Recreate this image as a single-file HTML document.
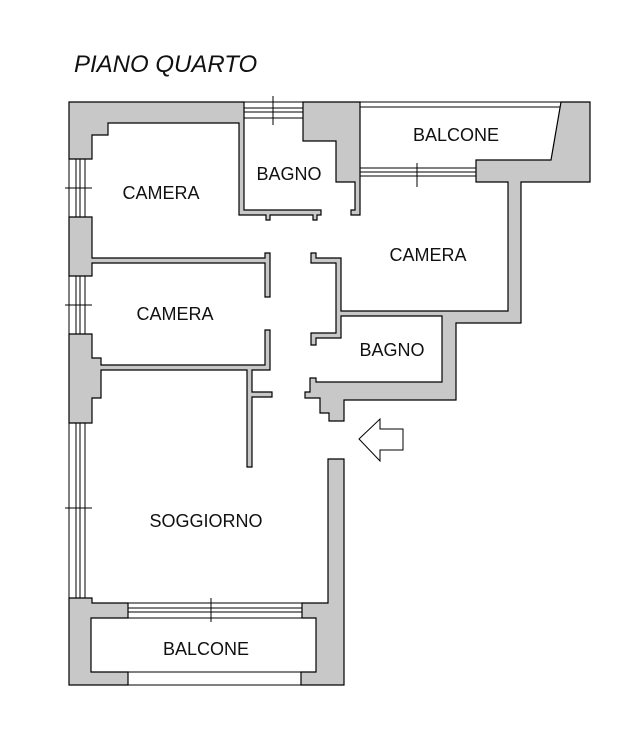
<!DOCTYPE html>
<html><head><meta charset="utf-8"><style>
html,body{margin:0;padding:0;background:#fff;}
svg{display:block;}
text{font-family:"Liberation Sans",sans-serif;font-size:18px;fill:#111;}
</style></head><body>
<svg width="629" height="741" viewBox="0 0 629 741" xmlns="http://www.w3.org/2000/svg">
<text x="74" y="72" style="font-size:24px;font-style:italic">PIANO QUARTO</text>
<g fill="#c8c8c8" stroke="#000" stroke-width="1.2">
<polygon points="69,102 244,102 244,210 321,210 321,215 317,215 317,220 313,220 313,215 270,215 270,220 266,220 266,215 239,215 239,123 108,123 108,135 92,135 92,159 69,159"/>
<polygon points="69,217 92,217 92,258 265,258 265,253 270,253 270,297 265,297 265,263 92,263 92,276 69,276"/>
<polygon points="69,334 92,334 92,358 101,358 101,365 265,365 265,330 270,330 270,370 252,370 252,392 272,392 272,397 252,397 252,467 247,467 247,370 101,370 101,398 92,398 92,423 69,423"/>
<polygon points="69,598 92,598 92,603 128,603 128,618 91,618 91,672 128,672 128,685 69,685"/>
<polygon points="344,459 344,685 301,685 301,672 316,672 316,618 302,618 302,603 328,603 328,459"/>
<polygon points="303,102 360,102 360,215 351,215 351,210 355,210 355,182 336,182 336,141 303,141"/>
<polygon points="561,102 590,102 590,182 521,182 521,323 456,323 456,400 344,400 344,421 329,421 329,413 320,413 320,398 305,398 305,392 310,392 310,378 316,378 316,382 442,382 442,316 341,316 341,338 316,338 316,345 311,345 311,333 336,333 336,263 311,263 311,253 316,253 316,258 341,258 341,311 508,311 508,182 476,182 476,160 551,160"/>
</g>
<g stroke="#000" stroke-width="1" fill="none">
<path d="M69,159V217M76,159V217M80,159V217M85,159V217M65,188H92"/>
<path d="M69,276V334M76,276V334M80,276V334M85,276V334M65,305H92"/>
<path d="M69,423V598M76,423V598M80,423V598M85,423V598M65,508H92"/>
<path d="M128,603H302M128,608H302M128,612H302M128,618H302M211,598V622"/>
<path d="M128,672H301M128,685H301"/>
<path d="M244,102H303M244,108H303M244,112H303M244,118H303M273,96V125"/>
<path d="M360,102H561M360,107H560"/>
<path d="M360,168H476M360,172H476M360,176H476M417,163V187"/>
<polygon points="359,439 380,419 380,429 403,429 403,450 380,450 380,461"/>
</g>
<g text-anchor="middle">
<text x="161" y="199">CAMERA</text>
<text x="289" y="180">BAGNO</text>
<text x="456" y="141">BALCONE</text>
<text x="428" y="261">CAMERA</text>
<text x="175" y="320">CAMERA</text>
<text x="392" y="356">BAGNO</text>
<text x="206" y="527">SOGGIORNO</text>
<text x="206" y="655">BALCONE</text>
</g>
</svg>
</body></html>
